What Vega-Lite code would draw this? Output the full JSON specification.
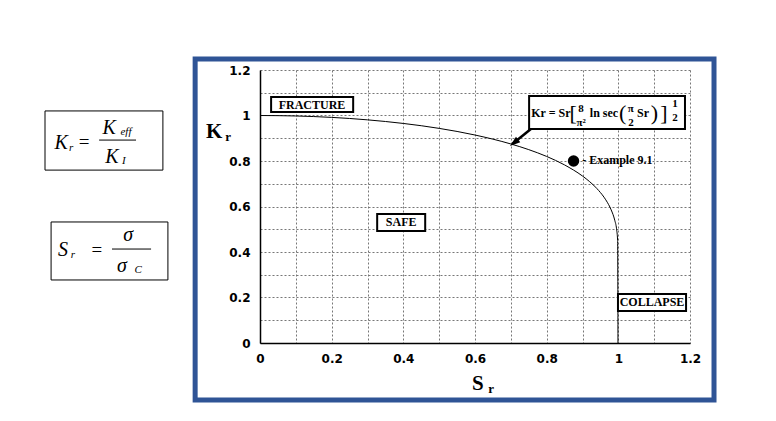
{
  "$schema": "https://vega.github.io/schema/vega-lite/v6.json",
  "width": 430,
  "height": 273,
  "autosize": {"type": "none"},
  "padding": {"left": 260, "top": 70, "right": 86, "bottom": 78},
  "background": "white",
  "config": {
    "view": {"stroke": null},
    "axis": {
      "grid": true, "gridDash": [2, 2], "gridColor": "#777", "gridWidth": 1,
      "ticks": false, "domainColor": "black", "domainWidth": 1.5,
      "labelFont": "DejaVu Sans", "labelFontWeight": "bold", "labelFontSize": 12,
      "labelColor": "black", "labelPadding": 10, "labelOverlap": false,
      "labelFlush": false, "labelBound": false
    }
  },
  "datasets": {
    "curve": [
      {"x": 0, "y": 1}, {"x": 0.1, "y": 0.9979}, {"x": 0.2, "y": 0.9917}, {"x": 0.3, "y": 0.9809},
      {"x": 0.4, "y": 0.9651}, {"x": 0.5, "y": 0.9434}, {"x": 0.6, "y": 0.9142}, {"x": 0.7, "y": 0.8749},
      {"x": 0.75, "y": 0.85}, {"x": 0.8, "y": 0.82}, {"x": 0.85, "y": 0.7827}, {"x": 0.9, "y": 0.7339},
      {"x": 0.92, "y": 0.7091}, {"x": 0.94, "y": 0.6792}, {"x": 0.96, "y": 0.6409}, {"x": 0.97, "y": 0.6164},
      {"x": 0.98, "y": 0.5851}, {"x": 0.99, "y": 0.5395}, {"x": 0.995, "y": 0.502}, {"x": 0.998, "y": 0.45},
      {"x": 0.999, "y": 0}
    ],
    "frame": [{"x": -0.181, "x2": 1.267, "y": 1.248, "y2": -0.251}],
    "leftBoxes": [
      {"x": -0.600, "x2": -0.271, "y": 1.020, "y2": 0.760},
      {"x": -0.583, "x2": -0.257, "y": 0.532, "y2": 0.277}
    ],
    "fracRules": [
      {"x": -0.449, "x2": -0.346, "y": 0.892},
      {"x": -0.413, "x2": -0.304, "y": 0.413}
    ],
    "bigItalic": [
      {"x": -0.555, "y": 0.879, "t": "K"}, {"x": -0.421, "y": 0.945, "t": "K"},
      {"x": -0.413, "y": 0.818, "t": "K"}, {"x": -0.550, "y": 0.409, "t": "S"},
      {"x": -0.368, "y": 0.475, "t": "σ"}, {"x": -0.385, "y": 0.338, "t": "σ"}
    ],
    "smallItalic": [
      {"x": -0.527, "y": 0.857, "t": "r"}, {"x": -0.374, "y": 0.928, "t": "eff"},
      {"x": -0.380, "y": 0.800, "t": "I"}, {"x": -0.522, "y": 0.387, "t": "r"},
      {"x": -0.340, "y": 0.321, "t": "C"}
    ],
    "equals": [{"x": -0.491, "y": 0.884, "t": "="}, {"x": -0.455, "y": 0.409, "t": "="}],
    "boxes": [
      {"x": 0.031, "x2": 0.260, "y": 1.081, "y2": 1.015},
      {"x": 0.327, "x2": 0.461, "y": 0.567, "y2": 0.492},
      {"x": 0.999, "x2": 1.189, "y": 0.215, "y2": 0.141},
      {"x": 0.751, "x2": 1.186, "y": 1.086, "y2": 0.941}
    ],
    "labels": [
      {"x": 0.145, "y": 1.046, "t": "FRACTURE"},
      {"x": 0.394, "y": 0.532, "t": "SAFE"},
      {"x": 1.094, "y": 0.180, "t": "COLLAPSE"}
    ],
    "eqLeft": [{"x": 0.757, "y": 1.011, "t": "Kr = Sr"}],
    "eqMain": [
      {"x": 0.960, "y": 1.011, "t": "ln sec"},
      {"x": 1.069, "y": 1.011, "t": "Sr"}
    ],
    "eqSmall": [
      {"x": 0.896, "y": 1.029, "t": "8"}, {"x": 0.896, "y": 0.967, "t": "π²"},
      {"x": 1.035, "y": 1.029, "t": "π"}, {"x": 1.035, "y": 0.967, "t": "2"},
      {"x": 1.158, "y": 1.051, "t": "1"}, {"x": 1.158, "y": 0.989, "t": "2"}
    ],
    "brackets": [
      {"x": 0.874, "y": 1.011, "t": "["}, {"x": 1.012, "y": 1.011, "t": "("},
      {"x": 1.101, "y": 1.011, "t": ")"}, {"x": 1.127, "y": 1.011, "t": "]"}
    ],
    "arrowLine": [{"x": 0.756, "y": 0.941, "x2": 0.705, "y2": 0.876}],
    "arrowHead": [{"x": 0.709, "y": 0.880}],
    "example": [{"x": 0.875, "y": 0.80}],
    "exampleText": [{"x": 0.899, "y": 0.804, "t": "- Example 9.1"}],
    "titleBig": [{"x": -0.128, "y": 0.927, "t": "K"}, {"x": 0.608, "y": -0.180, "t": "S"}],
    "titleSmall": [{"x": -0.089, "y": 0.905, "t": "r"}, {"x": 0.645, "y": -0.202, "t": "r"}]
  },
  "encoding": {
    "x": {"field": "x", "type": "quantitative", "title": null,
      "scale": {"domain": [0, 1.2], "nice": false, "zero": false},
      "axis": {"values": [0, 0.1, 0.2, 0.3, 0.4, 0.5, 0.6, 0.7, 0.8, 0.9, 1.0, 1.1, 1.2],
        "labelExpr": "round(datum.value*10)%2==0 ? format(datum.value, '~g') : ''"}},
    "y": {"field": "y", "type": "quantitative", "title": null,
      "scale": {"domain": [0, 1.2], "nice": false, "zero": false},
      "axis": {"values": [0, 0.1, 0.2, 0.3, 0.4, 0.5, 0.6, 0.7, 0.8, 0.9, 1.0, 1.1, 1.2],
        "labelExpr": "round(datum.value*10)%2==0 ? format(datum.value, '~g') : ''"}}
  },
  "layer": [
    {
      "data": {"name": "frame"},
      "mark": {"type": "rect", "filled": false, "stroke": "#2F5496", "strokeWidth": 5},
      "encoding": {"x2": {"field": "x2"}, "y2": {"field": "y2"}}
    },
    {
      "data": {"name": "curve"},
      "mark": {"type": "line", "color": "black", "strokeWidth": 1, "interpolate": "monotone"}
    },
    {
      "data": {"name": "leftBoxes"},
      "mark": {"type": "rect", "filled": false, "stroke": "black", "strokeWidth": 1},
      "encoding": {"x2": {"field": "x2"}, "y2": {"field": "y2"}}
    },
    {
      "data": {"name": "fracRules"},
      "mark": {"type": "rule", "color": "black", "strokeWidth": 1},
      "encoding": {"x2": {"field": "x2"}}
    },
    {
      "data": {"name": "bigItalic"},
      "mark": {"type": "text", "font": "Liberation Serif", "fontStyle": "italic", "fontSize": 20, "color": "black", "baseline": "middle", "align": "center"},
      "encoding": {"text": {"field": "t"}}
    },
    {
      "data": {"name": "smallItalic"},
      "mark": {"type": "text", "font": "Liberation Serif", "fontStyle": "italic", "fontSize": 11, "color": "black", "baseline": "middle", "align": "center"},
      "encoding": {"text": {"field": "t"}}
    },
    {
      "data": {"name": "equals"},
      "mark": {"type": "text", "font": "Liberation Serif", "fontSize": 19, "color": "black", "baseline": "middle", "align": "center"},
      "encoding": {"text": {"field": "t"}}
    },
    {
      "data": {"name": "boxes"},
      "mark": {"type": "rect", "fill": "white", "stroke": "black", "strokeWidth": 2},
      "encoding": {"x2": {"field": "x2"}, "y2": {"field": "y2"}}
    },
    {
      "data": {"name": "labels"},
      "mark": {"type": "text", "font": "Liberation Serif", "fontWeight": "bold", "fontSize": 12, "color": "black", "baseline": "middle", "align": "center"},
      "encoding": {"text": {"field": "t"}}
    },
    {
      "data": {"name": "eqLeft"},
      "mark": {"type": "text", "font": "Liberation Serif", "fontWeight": "bold", "fontSize": 12, "color": "black", "baseline": "middle", "align": "left"},
      "encoding": {"text": {"field": "t"}}
    },
    {
      "data": {"name": "eqMain"},
      "mark": {"type": "text", "font": "Liberation Serif", "fontWeight": "bold", "fontSize": 12, "color": "black", "baseline": "middle", "align": "center"},
      "encoding": {"text": {"field": "t"}}
    },
    {
      "data": {"name": "eqSmall"},
      "mark": {"type": "text", "font": "Liberation Serif", "fontWeight": "bold", "fontSize": 11, "color": "black", "baseline": "middle", "align": "center"},
      "encoding": {"text": {"field": "t"}}
    },
    {
      "data": {"name": "brackets"},
      "mark": {"type": "text", "font": "Liberation Serif", "fontSize": 22, "color": "black", "baseline": "middle", "align": "center"},
      "encoding": {"text": {"field": "t"}}
    },
    {
      "data": {"name": "arrowLine"},
      "mark": {"type": "rule", "color": "black", "strokeWidth": 2.5},
      "encoding": {"x2": {"field": "x2"}, "y2": {"field": "y2"}}
    },
    {
      "data": {"name": "arrowHead"},
      "mark": {"type": "point", "shape": "M0,-1L0.65,1L-0.65,1Z", "filled": true, "color": "black", "opacity": 1, "size": 110, "angle": 231}
    },
    {
      "data": {"name": "example"},
      "mark": {"type": "circle", "color": "black", "opacity": 1, "size": 130}
    },
    {
      "data": {"name": "exampleText"},
      "mark": {"type": "text", "font": "Liberation Serif", "fontWeight": "bold", "fontSize": 12, "color": "black", "baseline": "middle", "align": "left"},
      "encoding": {"text": {"field": "t"}}
    },
    {
      "data": {"name": "titleBig"},
      "mark": {"type": "text", "font": "Liberation Serif", "fontWeight": "bold", "fontSize": 21, "color": "black", "baseline": "middle", "align": "center"},
      "encoding": {"text": {"field": "t"}}
    },
    {
      "data": {"name": "titleSmall"},
      "mark": {"type": "text", "font": "Liberation Serif", "fontWeight": "bold", "fontSize": 13, "color": "black", "baseline": "middle", "align": "center"},
      "encoding": {"text": {"field": "t"}}
    }
  ]
}
